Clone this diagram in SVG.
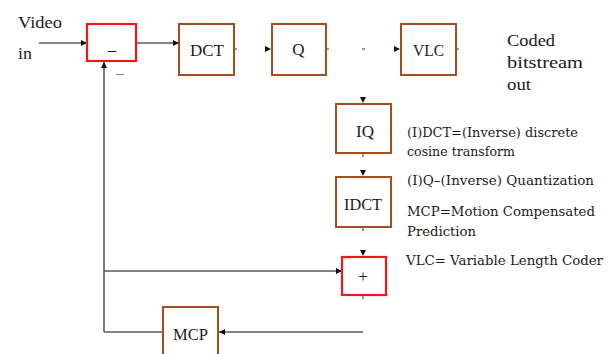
<svg xmlns="http://www.w3.org/2000/svg" width="610" height="354" viewBox="0 0 610 354">
<style>
.box{fill:#fff;stroke:#A34E22;stroke-width:2}
.red{fill:#fff;stroke:#F01818;stroke-width:2.2}
.lbl{font-family:'Liberation Serif','Times New Roman',serif;font-size:17px;fill:#1a1a1a}
.leg{font-family:'DejaVu Serif','Liberation Serif',serif;font-size:13px;fill:#1a1a1a}
.ln{fill:none;stroke:#5a5a5a;stroke-width:1.6}
.ghost{fill:none;stroke:none}
.tick{stroke:#555;stroke-width:1.2}
</style>
<defs>
<marker id="ah" markerUnits="userSpaceOnUse" markerWidth="7" markerHeight="7" refX="6" refY="3" orient="auto">
<path d="M0,0 L6,3 L0,6 z" fill="#111"/>
</marker>
</defs>
<rect width="610" height="354" fill="#fff"/>
<g id="connectors">
<path class="ln" d="M39,43 H87" marker-end="url(#ah)"/>
<path class="ln" d="M137,43 H179" marker-end="url(#ah)"/>
<path class="ghost" d="M240,49 H271" marker-end="url(#ah)"/>
<path class="ghost" d="M370,49 H400" marker-end="url(#ah)"/>
<line class="tick" x1="362" y1="49" x2="365" y2="49"/>
<path class="ghost" d="M363,90 V103" marker-end="url(#ah)"/>
<path class="ghost" d="M363,165 V176" marker-end="url(#ah)"/>
<path class="ghost" d="M363,240 V256" marker-end="url(#ah)"/>
<line class="tick" x1="234" y1="49" x2="237" y2="49"/>
<line class="tick" x1="326" y1="49" x2="329" y2="49"/>
<line class="tick" x1="456" y1="49" x2="459" y2="49"/>
<line class="tick" x1="363" y1="154" x2="363" y2="157"/>
<line class="tick" x1="363" y1="228" x2="363" y2="231"/>
<line class="tick" x1="363" y1="296" x2="363" y2="299"/>
<path class="ln" d="M104,332 V62" marker-end="url(#ah)"/>
<path class="ln" d="M104,271 H342" marker-end="url(#ah)"/>
<path class="ln" d="M104,332 H163"/>
<path class="ln" d="M363,332 H219" marker-end="url(#ah)"/>
</g>
<g id="video-in">
<text class="lbl" x="18" y="28" textLength="44" lengthAdjust="spacingAndGlyphs">Video</text>
<text class="lbl" x="18" y="59" textLength="14" lengthAdjust="spacingAndGlyphs">in</text>
</g>
<g id="subtract">
<rect class="red" x="87" y="24" width="49" height="37"/>
<text class="lbl" x="112" y="55" text-anchor="middle">–</text>
<text class="lbl" x="120" y="78" text-anchor="middle" style="fill:#888">–</text>
</g>
<g id="dct">
<rect class="box" x="179" y="24" width="55" height="51"/>
<text class="lbl" x="207" y="56" text-anchor="middle" textLength="34" lengthAdjust="spacingAndGlyphs">DCT</text>
</g>
<g id="q">
<rect class="box" x="272" y="24" width="54" height="51"/>
<text class="lbl" x="298.5" y="55" text-anchor="middle">Q</text>
</g>
<g id="vlc">
<rect class="box" x="401" y="24" width="55" height="51"/>
<text class="lbl" x="428.5" y="56" text-anchor="middle" textLength="31" lengthAdjust="spacingAndGlyphs">VLC</text>
</g>
<g id="coded-out">
<text class="lbl" x="507" y="46" textLength="48" lengthAdjust="spacingAndGlyphs">Coded</text>
<text class="lbl" x="507" y="68" textLength="76" lengthAdjust="spacingAndGlyphs">bitstream</text>
<text class="lbl" x="507" y="90" textLength="24" lengthAdjust="spacingAndGlyphs">out</text>
</g>
<g id="iq">
<rect class="box" x="336" y="104" width="55" height="49"/>
<text class="lbl" x="365" y="137" text-anchor="middle" textLength="18" lengthAdjust="spacingAndGlyphs">IQ</text>
</g>
<g id="idct">
<rect class="box" x="336" y="177" width="55" height="50"/>
<text class="lbl" x="363" y="210" text-anchor="middle" textLength="38" lengthAdjust="spacingAndGlyphs">IDCT</text>
</g>
<g id="add">
<rect class="red" x="342" y="257" width="44" height="38"/>
<text class="lbl" x="363" y="282" text-anchor="middle">+</text>
</g>
<g id="mcp">
<rect class="box" x="163" y="307" width="55" height="60"/>
<text class="lbl" x="190.5" y="340" text-anchor="middle" textLength="35" lengthAdjust="spacingAndGlyphs">MCP</text>
</g>
<g id="legend">
<text class="leg" x="407" y="137" textLength="171" lengthAdjust="spacingAndGlyphs">(I)DCT=(Inverse) discrete</text>
<text class="leg" x="407" y="156" textLength="108" lengthAdjust="spacingAndGlyphs">cosine transform</text>
<text class="leg" x="407" y="185" textLength="187" lengthAdjust="spacingAndGlyphs">(I)Q–(Inverse) Quantization</text>
<text class="leg" x="407" y="216" textLength="188" lengthAdjust="spacingAndGlyphs">MCP=Motion Compensated</text>
<text class="leg" x="407" y="236" textLength="69" lengthAdjust="spacingAndGlyphs">Prediction</text>
<text class="leg" x="406" y="265" textLength="197" lengthAdjust="spacingAndGlyphs">VLC= Variable Length Coder</text>
</g>
</svg>
